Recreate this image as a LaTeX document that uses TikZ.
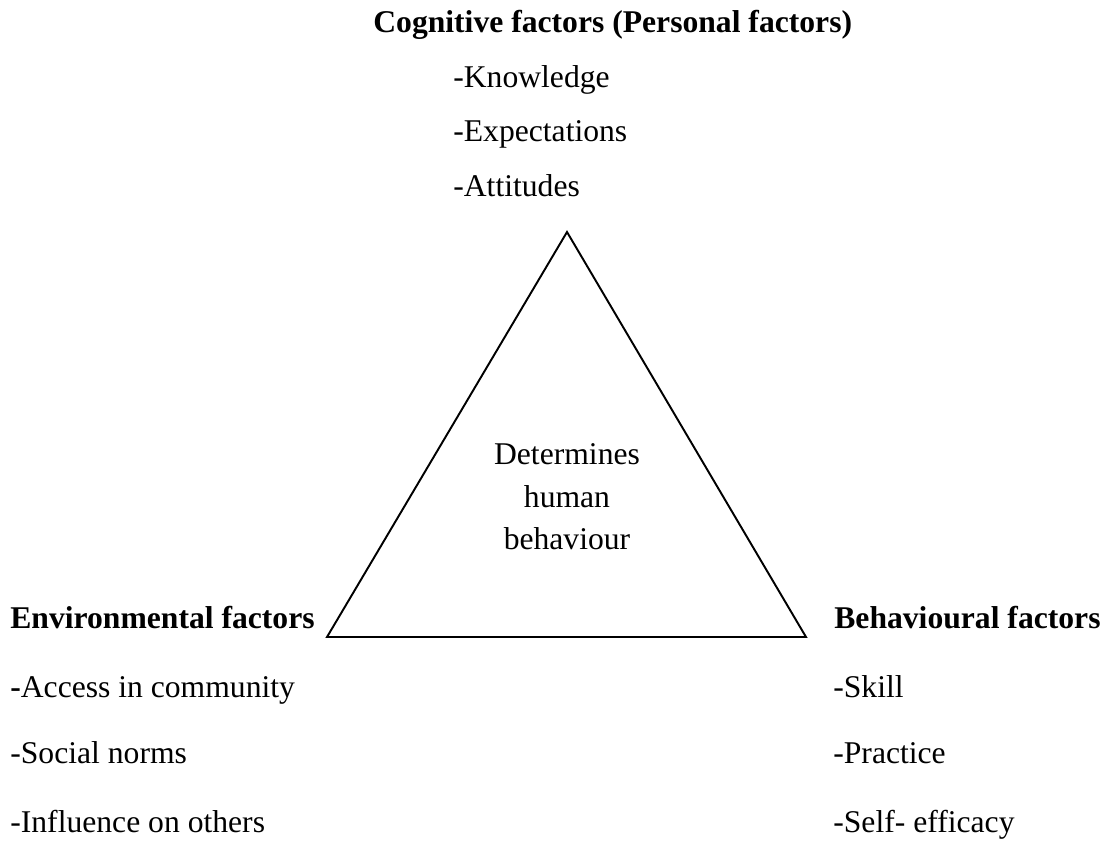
\documentclass[tikz,border=0pt]{standalone}
\usepackage{fontspec}
\setmainfont{Liberation Serif}
\usepackage{tikz}
\usetikzlibrary{positioning}

\begin{document}
\begin{tikzpicture}[
        every node/.style={inner sep=0pt, font=\fontsize{18}{24.2}\selectfont},
        head/.style={anchor=base west, font=\fontsize{18}{24.2}\selectfont\bfseries},
        item/.style={anchor=base west},
        side/.style={line width=1.1pt, line join=miter},
    ]
        \useasboundingbox (0,0) rectangle (22.06,-16.82);

        % corners of the triangle
        \coordinate (top)   at (11.34,-4.64);
        \coordinate (left)  at (6.54,-12.74);
        \coordinate (right) at (16.12,-12.74);
        \draw[side] (top) -- (left) -- (right) -- cycle;

        \node[align=center] (core) at (11.34,-9.94) {Determines\\human\\behaviour};

        % personal factors, above the triangle
        \node[head] (cognitive) at (7.46,-0.64) {Cognitive factors (Personal factors)};
        \node[item] (knowledge) at (9.06,-1.74) {-Knowledge};
        \node[item] (expect)    at (9.06,-2.82) {-Expectations};
        \node[item] (attitude)  at (9.06,-3.92) {-Attitudes};

        % environmental factors, left
        \node[head] (environment) at (0.2,-12.56) {Environmental factors};
        \node[item] (access)    at (0.2,-13.94) {\textbf{-}Access in community};
        \node[item] (norms)     at (0.2,-15.26) {-Social norms};
        \node[item] (influence) at (0.2,-16.64) {-Influence on others};

        % behavioural factors, right
        \node[head] (behaviour) at (16.68,-12.56) {Behavioural factors};
        \node[item] (skill)     at (16.66,-13.94) {-Skill};
        \node[item] (practice)  at (16.66,-15.26) {-Practice};
        \node[item] (efficacy)  at (16.66,-16.64) {-Self- efficacy};
\end{tikzpicture}
\end{document}
